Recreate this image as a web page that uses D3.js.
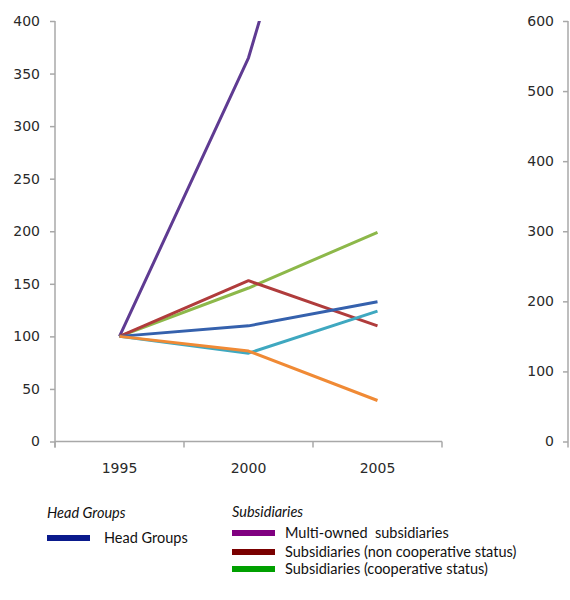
<!DOCTYPE html>
<html>
<head>
<meta charset="utf-8">
<script src="https://cdn.jsdelivr.net/npm/d3@7.9.0/dist/d3.min.js"></script>
<style>
  body { margin: 0; background: #fff; }
  svg { display: block; }
  .axis .tick text { font-family: "DejaVu Sans", sans-serif; font-size: 14px; fill: #2a2a2a; }
  .legend text { font-family: Lato, "Open Sans", sans-serif; font-size: 14.5px; fill: #111; }
</style>
</head>
<body>
<svg width="570" height="600"></svg>
<script>
const years = ['1995', '2000', '2005'];
const headGroups = [100, 110, 133];
const multiOwned = [100, 365, 780];
const nonCoop = [100, 153, 110];
const coop = [100, 146, 199];
const cyanSeries = [100, 84, 124];
const orangeSeries = [100, 86, 39];
const leftTicks = [0, 50, 100, 150, 200, 250, 300, 350, 400];
const rightTicks = [0, 100, 200, 300, 400, 500, 600];

const series = [
  { name: 'Multi-owned subsidiaries', values: multiOwned, color: '#5f3b92' },
  { name: 'Subsidiaries (cooperative status)', values: coop, color: '#8db84a' },
  { name: 'Subsidiaries (non cooperative status)', values: nonCoop, color: '#b03c3c' },
  { name: 'Cyan', values: cyanSeries, color: '#3fa8c0' },
  { name: 'Head Groups', values: headGroups, color: '#3561ad' },
  { name: 'Orange', values: orangeSeries, color: '#f08a35' }
];

const svg = d3.select('svg');
const pLeft = 55, pRight = 442, pTop = 21, pBottom = 441.5;

const x = d3.scaleBand().domain(years).range([pLeft, pRight]);
const y = d3.scaleLinear().domain([0, 400]).range([pBottom, pTop]);
const y2 = d3.scaleLinear().domain([0, 600]).range([pBottom, pTop]);

svg.append('defs').append('clipPath').attr('id', 'plot')
  .append('rect').attr('x', pLeft).attr('y', pTop).attr('width', pRight - pLeft).attr('height', pBottom - pTop);

// left axis
const ya = svg.append('g').attr('class', 'axis').attr('transform', `translate(${pLeft},0)`)
  .call(d3.axisLeft(y).tickValues(leftTicks).tickSize(5).tickPadding(10));
ya.select('.domain').attr('d', `M0,${pTop}V${pBottom + 6}`);

// right axis
const yb = svg.append('g').attr('class', 'axis').attr('transform', 'translate(568,0)')
  .call(d3.axisLeft(y2).tickValues(rightTicks).tickSize(5).tickPadding(9));
yb.select('.domain').attr('d', `M0,${pTop}V${pBottom + 6}`);

// x axis
const xa = svg.append('g').attr('class', 'axis').attr('transform', `translate(0,${pBottom})`)
  .call(d3.axisBottom(x).tickSize(0).tickPadding(22));
xa.select('.domain').attr('d', `M${pLeft},0H${pRight}`);
const edges = years.map(d => x(d)).concat([pRight]);
xa.selectAll('line.edge').data(edges).join('line').attr('class', 'edge')
  .attr('x1', d => d).attr('x2', d => d).attr('y1', 0).attr('y2', 6);

svg.selectAll('.domain, .tick line, line.edge').attr('stroke', '#a8a8a8').attr('stroke-width', 1.5);

// lines
const line = d3.line().x((d, i) => x(years[i]) + x.bandwidth() / 2).y(d => y(d));
svg.append('g').attr('clip-path', 'url(#plot)')
  .selectAll('path').data(series).join('path')
  .attr('d', d => line(d.values))
  .attr('fill', 'none')
  .attr('stroke', d => d.color)
  .attr('stroke-width', 3)
  .attr('stroke-linejoin', 'round');

// legend
const lg = svg.append('g').attr('class', 'legend');
lg.append('text').attr('x', 47).attr('y', 518).attr('font-style', 'italic').text('Head Groups');
lg.append('text').attr('x', 232).attr('y', 517).attr('font-style', 'italic').text('Subsidiaries');

const legendItems = [
  { label: 'Head Groups', color: '#0a1a8c', x: 47, y: 538 },
  { label: 'Multi-owned  subsidiaries', color: '#800080', x: 232, y: 533 },
  { label: 'Subsidiaries (non cooperative status)', color: '#7a0000', x: 232, y: 552 },
  { label: 'Subsidiaries (cooperative status)', color: '#00a000', x: 232, y: 569 }
];
const li = lg.selectAll('g.item').data(legendItems).join('g').attr('class', 'item');
li.append('rect').attr('x', d => d.x).attr('y', d => d.y - 3).attr('width', 43).attr('height', 6).attr('fill', d => d.color);
li.append('text').attr('x', d => d.x + (d.x === 47 ? 57 : 53)).attr('y', d => d.y + 5).style('white-space', 'pre').text(d => d.label);
</script>
</body>
</html>
